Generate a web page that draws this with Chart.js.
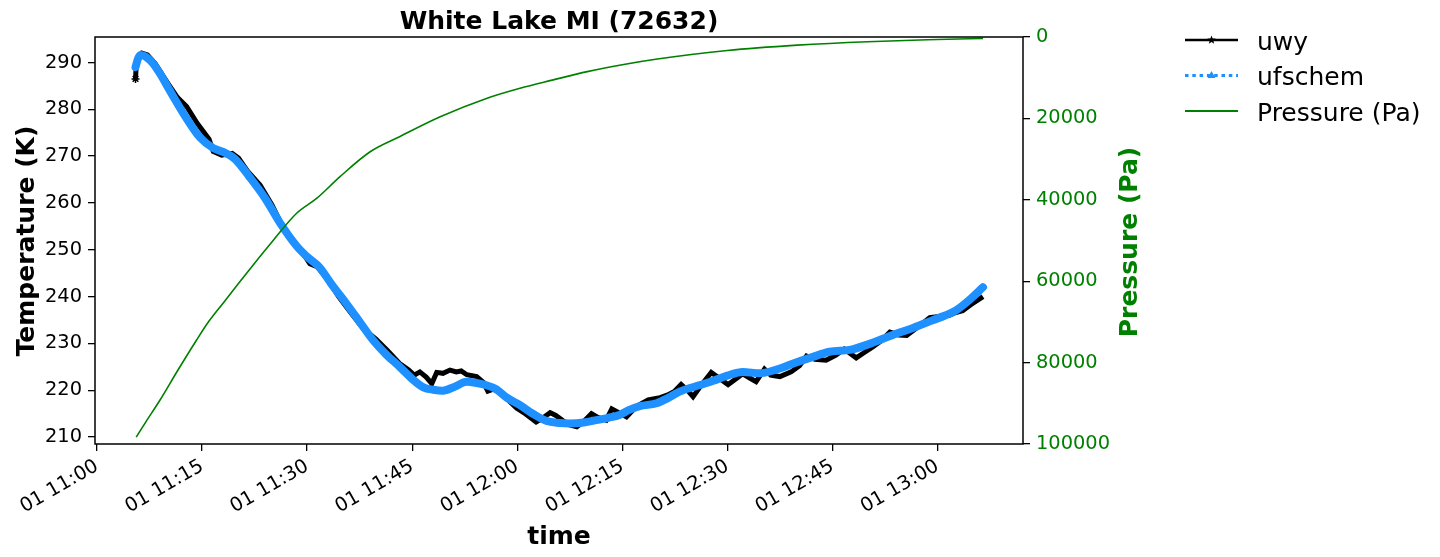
<!DOCTYPE html>
<html><head><meta charset="utf-8">
<script src="https://cdn.jsdelivr.net/npm/chart.js@4"></script>
<style>html,body{margin:0;padding:0;background:#fff}#wrap{width:1440px;height:557px;position:relative}</style>
</head><body><div id="wrap"><canvas id="c" width="1440" height="557"></canvas></div>
<script>
// ---------- data ----------
const chartTitle = "White Lake MI (72632)";
const dayLabel = "01";
const startHour = 11;                       // x values are minutes after 11:00
const xTickMinutes = [0, 15, 30, 45, 60, 75, 90, 105, 120];
const tempTicks = [210, 220, 230, 240, 250, 260, 270, 280, 290];
const presTicks = [0, 20000, 40000, 60000, 80000, 100000];
const seriesNames = ["uwy", "ufschem", "Pressure (Pa)"];

const uwyMin = [5.5, 5.6, 5.9, 6.4, 7.2, 8.3, 10.0, 11.5, 12.8, 14.3, 16.0, 16.6, 17.8, 19.3, 20.2, 21.5, 23.3, 25.0, 26.6, 28.0,
  29.5, 30.4, 31.5, 33.0, 34.5, 36.1, 38.0, 39.9, 41.5, 43.2, 44.5, 45.3, 46.1, 47.0, 47.8, 48.5, 49.4, 50.4, 51.3, 52.0,
  52.8, 54.2, 55.2, 55.8, 56.6, 57.5, 58.5, 59.9, 61.2, 62.7, 63.5, 64.7, 65.5, 66.5, 67.5, 68.5, 69.5, 70.6, 71.5, 72.7,
  73.5, 74.5, 75.6, 77.0, 78.7, 80.4, 81.5, 82.5, 83.4, 84.3, 85.1, 86.0, 87.7, 88.8, 90.1, 91.2, 92.2, 93.2, 94.1, 95.3,
  96.2, 97.5, 99.1, 100.3, 101.3, 102.5, 104.1, 105.5, 106.7, 107.6, 108.4, 109.5, 110.8, 112.0, 113.2, 114.5, 115.6, 117.2, 118.9, 120.5,
  121.7, 122.6, 123.6, 124.8, 126.5];
const uwyTemp = [286.5, 289.5, 291.2, 292.0, 291.6, 289.8, 285.8, 282.5, 280.6, 277.0, 273.6, 271.0, 270.2, 270.6, 269.6, 266.8, 263.8, 259.5, 254.6, 252.0,
  249.0, 247.0, 246.3, 243.5, 240.0, 236.8, 233.2, 230.8, 228.4, 225.7, 224.3, 223.2, 223.9, 222.8, 221.4, 223.8, 223.6, 224.3, 223.9, 224.1,
  223.3, 222.9, 221.6, 219.8, 220.2, 219.6, 218.2, 216.2, 214.9, 213.2, 213.9, 215.2, 214.6, 213.5, 212.6, 212.2, 213.3, 215.0, 214.2, 213.6,
  216.0, 215.2, 214.3, 216.5, 217.9, 218.4, 219.0, 219.8, 221.2, 220.0, 218.6, 220.5, 223.8, 222.6, 221.2, 222.4, 223.5, 222.6, 221.8, 224.5,
  223.2, 222.9, 223.9, 225.2, 227.3, 226.6, 226.4, 227.5, 228.8, 227.8, 226.9, 228.0, 229.3, 230.6, 232.4, 231.8, 231.7, 233.5, 235.5, 235.8,
  236.0, 236.6, 237.0, 238.3, 240.0];

const chemMin = [5.5, 5.9, 6.3, 7.0, 8.0, 9.0, 10.4, 12.6, 14.7, 16.6, 18.0, 19.7, 21.8, 24.0, 26.1, 28.5, 30.0, 31.8, 33.5, 35.6,
  37.5, 39.4, 41.3, 43.2, 45.0, 46.6, 48.0, 49.4, 51.0, 52.8, 54.0, 55.5, 57.0, 58.5, 60.4, 62.3, 64.2, 66.0, 67.5, 69.5,
  71.3, 73.0, 74.6, 76.0, 77.5, 79.9, 81.5, 83.2, 86.1, 88.0, 90.0, 92.2, 94.6, 97.0, 99.4, 102.0, 104.6, 107.5, 110.5, 113.6,
  116.5, 119.4, 121.0, 122.7, 124.5, 126.5];
const chemTemp = [289.0, 291.0, 291.6, 291.2, 289.8, 287.6, 284.0, 278.5, 274.0, 271.7, 270.9, 269.4, 265.5, 261.0, 255.8, 250.8, 248.5, 246.2, 242.6, 238.5,
  234.6, 230.7, 227.6, 225.0, 222.4, 220.6, 220.1, 219.9, 220.7, 221.8, 221.6, 221.1, 220.2, 218.4, 216.8, 214.9, 213.4, 213.0, 212.9, 213.1,
  213.6, 214.1, 214.7, 215.8, 216.6, 217.2, 218.3, 219.7, 221.1, 222.0, 223.1, 223.9, 223.6, 224.4, 225.7, 227.0, 228.2, 228.6, 230.0, 231.8,
  233.3, 235.0, 235.9, 237.1, 239.2, 242.0];

const presMin = [5.6, 7.0, 9.0, 11.5, 14.2, 16.0, 18.0, 20.0, 22.3, 25.0, 28.5, 31.4, 34.7, 39.0, 43.2, 49.0, 55.6, 60.4, 65.0, 70.0,
  75.0, 80.0, 90.0, 100.0, 110.0, 120.0, 126.5];
const presPa = [98300, 94500, 89200, 82000, 74500, 69800, 65400, 61000, 56000, 50300, 43300, 39600, 34300, 28200, 24500, 19600, 15100, 12600, 10600, 8500,
  6800, 5400, 3300, 2000, 1150, 620, 350];

// ---------- helpers ----------
const FONT = "'DejaVu Sans', sans-serif";
const pts = (xs, ys) => xs.map((x, i) => ({x: x, y: ys[i]}));
function fmtTime(m) {
  const tot = startHour * 60 + Math.round(m);
  const h = Math.floor(tot / 60), mm = tot % 60;
  return dayLabel + ' ' + String(h).padStart(2, '0') + ':' + String(mm).padStart(2, '0');
}
const fixTicks = arr => (scale) => { scale.ticks = arr.map(v => ({value: v})); };

const LEFT = 95, RIGHT = 1023, TOP = 37, BOTTOM = 444;
const BLACK = '#000000', BLUE = '#1E90FF', GREEN = '#008000';

function starPath(ctx, cx, cy, ro, ri) {
  ctx.beginPath();
  for (let i = 0; i < 10; i++) {
    const r = i % 2 ? ri : ro;
    const a = -Math.PI / 2 + i * Math.PI / 5;
    const px = cx + r * Math.cos(a), py = cy + r * Math.sin(a);
    i ? ctx.lineTo(px, py) : ctx.moveTo(px, py);
  }
  ctx.closePath();
}

const decor = {
  id: 'decor',
  afterDraw(chart) {
    const ctx = chart.ctx, a = chart.chartArea;
    ctx.save();
    // frame
    ctx.strokeStyle = BLACK; ctx.lineWidth = 1.5;
    ctx.strokeRect(a.left, a.top, a.right - a.left, a.bottom - a.top);
    // titles
    ctx.fillStyle = BLACK;
    ctx.font = "bold 25px " + FONT;
    ctx.textAlign = 'center'; ctx.textBaseline = 'alphabetic';
    ctx.fillText(chartTitle, (a.left + a.right) / 2, 28.5);
    ctx.fillText('time', (a.left + a.right) / 2, 544);
    ctx.save();
    ctx.translate(33.5, 241); ctx.rotate(-Math.PI / 2);
    ctx.fillText('Temperature (K)', 0, 0);
    ctx.restore();
    ctx.save();
    ctx.fillStyle = GREEN;
    ctx.translate(1136.5, 242); ctx.rotate(-Math.PI / 2);
    ctx.fillText('Pressure (Pa)', 0, 0);
    ctx.restore();
    // legend
    const lx0 = 1185, lx1 = 1238, lxm = (lx0 + lx1) / 2, tx = 1257;
    const ly = [40, 75.5, 111];
    ctx.strokeStyle = BLACK; ctx.lineWidth = 2.6; ctx.setLineDash([]);
    ctx.beginPath(); ctx.moveTo(lx0, ly[0]); ctx.lineTo(lx1, ly[0]); ctx.stroke();
    ctx.fillStyle = BLACK; starPath(ctx, lxm, ly[0], 4.5, 1.9); ctx.fill();
    ctx.strokeStyle = BLUE; ctx.lineWidth = 3; ctx.setLineDash([3.5, 3.8]);
    ctx.beginPath(); ctx.moveTo(lx0, ly[1]); ctx.lineTo(lx1, ly[1]); ctx.stroke();
    ctx.setLineDash([]);
    ctx.fillStyle = BLUE;
    ctx.beginPath(); ctx.moveTo(lxm, ly[1] - 4.5); ctx.lineTo(lxm + 4, ly[1] + 2.5); ctx.lineTo(lxm - 4, ly[1] + 2.5); ctx.closePath(); ctx.fill();
    ctx.strokeStyle = GREEN; ctx.lineWidth = 2;
    ctx.beginPath(); ctx.moveTo(lx0, ly[2]); ctx.lineTo(lx1, ly[2]); ctx.stroke();
    ctx.fillStyle = BLACK; ctx.font = "25px " + FONT; ctx.textAlign = 'left';
    seriesNames.forEach((n, i) => ctx.fillText(n, tx, ly[i] + 9.5));
    ctx.restore();
  }
};

const tickFont = {family: FONT, size: 19.4};

new Chart(document.getElementById('c'), {
  type: 'line',
  data: {
    datasets: [
      {label: seriesNames[0], data: pts(uwyMin, uwyTemp), yAxisID: 'y', borderColor: BLACK, backgroundColor: BLACK,
        borderWidth: 5, tension: 0, borderJoinStyle: 'miter', pointStyle: 'star',
        pointRadius: c => c.dataIndex === 0 ? 4 : 0, pointBorderWidth: 1.5, pointBorderColor: BLACK, order: 3},
      {label: seriesNames[1], data: pts(chemMin, chemTemp), yAxisID: 'y', borderColor: BLUE, backgroundColor: BLUE,
        borderWidth: 8, cubicInterpolationMode: 'monotone', pointRadius: 0, borderCapStyle: 'round', borderJoinStyle: 'round', order: 2},
      {label: seriesNames[2], data: pts(presMin, presPa), yAxisID: 'y1', borderColor: GREEN, backgroundColor: GREEN,
        borderWidth: 1.6, cubicInterpolationMode: 'monotone', pointRadius: 0, order: 1}
    ]
  },
  options: {
    responsive: false, animation: false, devicePixelRatio: 1, events: [],
    layout: {padding: {top: TOP, left: 0, right: 0, bottom: 0}},
    plugins: {legend: {display: false}, tooltip: {enabled: false}, title: {display: false}},
    scales: {
      x: {
        type: 'linear', position: 'bottom',
        min: (LEFT - 97) / 7.004, max: (RIGHT - 97) / 7.004,
        afterBuildTicks: fixTicks(xTickMinutes),
        afterFit: s => { s.height = 557 - BOTTOM; },
        grid: {drawOnChartArea: false, drawTicks: true, tickLength: 7, color: BLACK, lineWidth: 1.3},
        border: {display: false},
        ticks: {font: tickFont, color: BLACK, maxRotation: 30, minRotation: 30, autoSkip: false, padding: 4,
          callback: v => fmtTime(v)}
      },
      y: {
        type: 'linear', position: 'left',
        min: 208.5, max: 295.45,
        afterBuildTicks: fixTicks(tempTicks),
        afterFit: s => { s.width = LEFT; },
        grid: {drawOnChartArea: false, drawTicks: true, tickLength: 7, color: BLACK, lineWidth: 1.3},
        border: {display: false},
        ticks: {font: tickFont, color: BLACK, padding: 6}
      },
      y1: {
        type: 'linear', position: 'right', reverse: true,
        min: 0, max: 100000,
        afterBuildTicks: fixTicks(presTicks),
        afterFit: s => { s.width = 1440 - RIGHT; },
        grid: {drawOnChartArea: false, drawTicks: true, tickLength: 7, color: BLACK, lineWidth: 1.3},
        border: {display: false},
        ticks: {font: tickFont, color: GREEN, padding: 6, callback: v => String(v)}
      }
    }
  },
  plugins: [decor]
});
</script>
</body></html>
